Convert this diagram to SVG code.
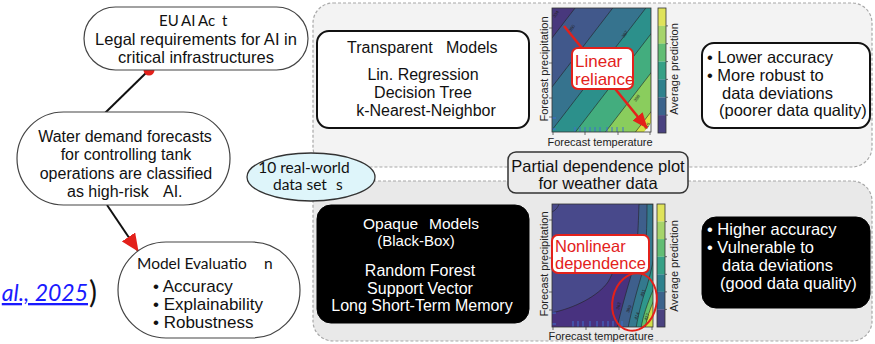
<svg xmlns="http://www.w3.org/2000/svg" width="875" height="344" viewBox="0 0 875 344">
  <style>
    .sans { font-family: "Liberation Sans", Arial, sans-serif; fill: #111; }
    .hum { font-family: Lato, "Open Sans", sans-serif; fill: #111; }
    .pill { fill: #fff; stroke: #444; stroke-width: 1.2; }
    .panel { stroke: #a8a8a8; stroke-width: 1.2; stroke-dasharray: 3 2; }
    .wbox { fill: #fff; stroke: #111; stroke-width: 2; }
    .bbox { fill: #000; stroke: #000; stroke-width: 1; }
    .wt { fill: #fff; }
    .ax { font-family: "Liberation Sans", Arial, sans-serif; font-size: 11px; fill: #222; }
    .clab { font-family: "Liberation Sans", Arial, sans-serif; font-size: 4.5px; fill: #222; }
    .cline { fill: none; stroke: #222; stroke-width: 0.6; }
    .frame { fill: none; stroke: #333; stroke-width: 0.8; }
    .tick { stroke: #333; stroke-width: 0.7; }
    .rug { stroke: #3f6fd0; stroke-width: 1; }
    .callout { fill: #fff; stroke: #e3211b; stroke-width: 2; }
    .red { fill: #e3211b; font-family: "Liberation Sans", Arial, sans-serif; }
    .link { stroke: #111; stroke-width: 2; fill: none; }
  </style>
  <defs>
    <marker id="evalHead" markerUnits="userSpaceOnUse" viewBox="0 0 18 16" markerWidth="18" markerHeight="16" refX="17" refY="8" orient="auto">
      <path d="M0,0 L18,8 L0,16 z" fill="#e3211b"/>
    </marker>
    <marker id="redHead" markerUnits="userSpaceOnUse" viewBox="0 0 16 13" markerWidth="16" markerHeight="13" refX="15" refY="6.5" orient="auto">
      <path d="M0,0 L16,6.5 L0,13 z" fill="#e3211b"/>
    </marker>
    <clipPath id="clipTop"><rect x="552" y="8" width="99" height="124"/></clipPath>
    <clipPath id="clipBot"><rect x="552" y="204" width="101" height="123"/></clipPath>
  </defs>

  <!-- background panels -->
  <g id="panels">
    <rect class="panel" x="313" y="3" width="559" height="164" rx="20" fill="#f3f3f3"/>
    <rect class="panel" x="313" y="181" width="559" height="160" rx="20" fill="#e9e9e9"/>
  </g>

  <!-- connectors of the left chain -->
  <g id="connectors">
    <line class="link" x1="149" y1="70" x2="105" y2="113"/>
    <circle cx="149" cy="70" r="5.5" fill="#e3211b"/>
    <line class="link" x1="107" y1="205" x2="138" y2="251" marker-end="url(#evalHead)"/>
  </g>

  <g id="n-euact">
    <rect class="pill" x="84" y="7" width="224" height="63" rx="31.5"/>
    <text class="hum" font-size="15" y="26"><tspan x="159">EU</tspan><tspan x="181">AI</tspan><tspan x="198">Ac</tspan><tspan x="222">t</tspan></text>
    <text class="sans" font-size="16.5" text-anchor="middle" x="196" y="45">Legal requirements for AI in</text>
    <text class="sans" font-size="16.5" text-anchor="middle" x="196" y="63">critical infrastructures</text>
  </g>

  <g id="n-water">
    <rect class="pill" x="17" y="112" width="213" height="93" rx="46.5"/>
    <g class="sans" font-size="16" text-anchor="middle">
      <text x="125" y="142">Water demand forecasts</text>
      <text x="126" y="160">for controlling tank</text>
      <text x="126" y="179">operations are classified</text>
    </g>
    <text class="sans" font-size="16" y="197"><tspan x="67">as high-risk</tspan><tspan x="163">AI.</tspan></text>
  </g>

  <g id="n-eval">
    <rect class="pill" x="118" y="242" width="182" height="96" rx="48"/>
    <text class="hum" font-size="15.5" y="269"><tspan x="137">Model Evaluatio</tspan><tspan x="264">n</tspan></text>
    <g class="sans" font-size="17">
      <text x="153" y="291.5">• Accuracy</text>
      <text x="153" y="309.5">• Explainability</text>
      <text x="153" y="327.5">• Robustness</text>
    </g>
  </g>

  <g id="citation">
    <text class="hum" font-size="23" font-style="italic" text-anchor="end" x="88" y="301" style="fill:#1a1aff" text-decoration="underline">al., 2025</text>
    <text class="hum" font-size="30" x="89" y="303">)</text>
  </g>

  <g id="n-datasets">
    <ellipse cx="311" cy="177" rx="64" ry="24" fill="#def5fa" stroke="#333" stroke-width="1.3"/>
    <text class="hum" font-size="15.5" text-anchor="middle" x="304" y="173">10 real-world</text>
    <text class="hum" font-size="15.5" y="190"><tspan x="273">data set</tspan><tspan x="336">s</tspan></text>
  </g>

  <g id="n-transparent">
    <rect class="wbox" x="317" y="31" width="212" height="97" rx="12"/>
    <text class="sans" font-size="16" y="53"><tspan x="347">Transparent</tspan><tspan x="446">Models</tspan></text>
    <g class="sans" font-size="16" text-anchor="middle">
      <text x="423" y="80">Lin. Regression</text>
      <text x="423" y="98">Decision Tree</text>
      <text x="426" y="116">k-Nearest-Neighbor</text>
    </g>
  </g>

  <g id="n-transparent-props">
    <rect class="wbox" x="702" y="43" width="168" height="85" rx="12"/>
    <g class="sans" font-size="16.5">
      <text x="707" y="63">• Lower accuracy</text>
      <text x="707" y="81">• More robust to</text>
      <text x="722" y="99">data deviations</text>
      <text x="719" y="116">(poorer data quality)</text>
    </g>
  </g>

  <g id="n-pdp">
    <rect x="508" y="152" width="180" height="41" rx="8" fill="#ececec" stroke="#333" stroke-width="1.5"/>
    <text class="sans" font-size="16.5" text-anchor="middle" x="598" y="172">Partial dependence plot</text>
    <text class="sans" font-size="16.5" text-anchor="middle" x="598" y="189">for weather data</text>
  </g>

  <g id="n-opaque">
    <rect class="bbox" x="317" y="205" width="212" height="118" rx="14"/>
    <text class="sans wt" font-size="15.5" y="229"><tspan x="363">Opaque</tspan><tspan x="429">Models</tspan></text>
    <g class="sans" font-size="15" text-anchor="middle" style="fill:#fff">
      <text x="416" y="246">(Black-Box)</text>
    </g>
    <g class="sans" font-size="16" text-anchor="middle" style="fill:#fff">
      <text x="420" y="276">Random Forest</text>
      <text x="420" y="294">Support Vector</text>
      <text x="422" y="311">Long Short-Term Memory</text>
    </g>
  </g>

  <g id="n-opaque-props">
    <rect class="bbox" x="702" y="217" width="168" height="91" rx="14"/>
    <g class="sans" font-size="16.5" style="fill:#fff">
      <text x="707" y="235">• Higher accuracy</text>
      <text x="707" y="253">• Vulnerable to</text>
      <text x="722" y="271">data deviations</text>
      <text x="720" y="289">(good data quality)</text>
    </g>
  </g>

  <!-- partial dependence: linear model -->
  <g id="plot-linear">
    <g clip-path="url(#clipTop)">
      <rect x="552" y="8" width="99" height="124" fill="#48387d"/>
      <polygon points="500,105.6 700,-154.4 700,400 500,400" fill="#41588b"/>
      <polygon points="500,154.6 700,-105.4 700,400 500,400" fill="#36738e"/>
      <polygon points="500,197.6 700,-62.4 700,400 500,400" fill="#2c908b"/>
      <polygon points="500,230.1 700,-29.9 700,400 500,400" fill="#43ad7e"/>
      <polygon points="500,269.1 700,9.1 700,400 500,400" fill="#8acd5d"/>
      <polygon points="500,308.1 700,48.1 700,400 500,400" fill="#d4e146"/>
      <polygon points="644,132 651,132 651,123" fill="#f4f4f0"/>
      <g class="cline">
        <line x1="500" y1="105.6" x2="700" y2="-154.4"/>
        <line x1="500" y1="154.6" x2="700" y2="-105.4"/>
        <line x1="500" y1="197.6" x2="700" y2="-62.4"/>
        <line x1="500" y1="230.1" x2="700" y2="-29.9"/>
        <line x1="500" y1="269.1" x2="700" y2="9.1"/>
        <line x1="500" y1="308.1" x2="700" y2="48.1"/>
      </g>
      <g class="rug">
        <line x1="575" y1="127" x2="575" y2="132"/>
        <line x1="580" y1="127" x2="580" y2="132"/>
        <line x1="585" y1="127" x2="585" y2="132"/>
        <line x1="590" y1="127" x2="590" y2="132"/>
        <line x1="595" y1="127" x2="595" y2="132"/>
        <line x1="600" y1="127" x2="600" y2="132"/>
        <line x1="607" y1="127" x2="607" y2="132"/>
        <line x1="612" y1="127" x2="612" y2="132"/>
        <line x1="617" y1="127" x2="617" y2="132"/>
        <line x1="623" y1="127" x2="623" y2="132"/>
        <line x1="552" y1="118" x2="556" y2="118"/>
        <line x1="552" y1="129" x2="556" y2="129"/>
      </g>
      <g class="clab">
        <text transform="translate(555 18) rotate(-55)">334</text>
        <text transform="translate(571 32) rotate(-55)">350</text>
        <text transform="translate(624 38) rotate(-55)">367</text>
        <text transform="translate(627 55) rotate(-55)">381</text>
        <text transform="translate(636 102) rotate(-55)">398</text>
        <text transform="translate(646 130) rotate(-55)">415</text>
      </g>
    </g>
    <rect class="frame" x="552" y="8" width="99" height="124"/>
    <g class="tick">
      <line x1="549" y1="28" x2="552" y2="28"/>
      <line x1="549" y1="63" x2="552" y2="63"/>
      <line x1="549" y1="98" x2="552" y2="98"/>
      <line x1="549" y1="117" x2="552" y2="117"/>
      <line x1="553" y1="132" x2="553" y2="135"/>
      <line x1="585" y1="132" x2="585" y2="135"/>
      <line x1="618" y1="132" x2="618" y2="135"/>
      <line x1="650" y1="132" x2="650" y2="135"/>
    </g>
    <!-- colour scale -->
    <rect x="658" y="8" width="8" height="17.9" fill="#dfe35a"/>
    <rect x="658" y="25.9" width="8" height="17.9" fill="#a6d46a"/>
    <rect x="658" y="43.7" width="8" height="17.9" fill="#62bd74"/>
    <rect x="658" y="61.6" width="8" height="17.9" fill="#36a086"/>
    <rect x="658" y="79.4" width="8" height="17.9" fill="#2e818d"/>
    <rect x="658" y="97.3" width="8" height="17.9" fill="#3b638c"/>
    <rect x="658" y="115.1" width="8" height="17.9" fill="#4a4280"/>
    <rect class="frame" x="658" y="8" width="8" height="125"/>
    <g class="tick">
      <line x1="666" y1="25.9" x2="668" y2="25.9"/>
      <line x1="666" y1="43.7" x2="668" y2="43.7"/>
      <line x1="666" y1="61.6" x2="668" y2="61.6"/>
      <line x1="666" y1="79.4" x2="668" y2="79.4"/>
      <line x1="666" y1="97.3" x2="668" y2="97.3"/>
      <line x1="666" y1="115.1" x2="668" y2="115.1"/>
    </g>
    <text class="ax" text-anchor="middle" transform="translate(547.5 69) rotate(-90)">Forecast precipitation</text>
    <text class="ax" text-anchor="middle" transform="translate(678 69) rotate(-90)">Average prediction</text>
    <text class="ax" text-anchor="middle" x="600" y="146">Forecast temperature</text>
    <!-- annotation -->
    <line x1="564" y1="26" x2="647" y2="128" stroke="#e3211b" stroke-width="2.5" marker-end="url(#redHead)"/>
    <rect class="callout" x="572" y="48" width="61" height="41" rx="6"/>
    <text class="red" font-size="17" x="575" y="67">Linear</text>
    <text class="red" font-size="17" x="575" y="85">reliance</text>
  </g>

  <!-- partial dependence: opaque model -->
  <g id="plot-nonlinear">
    <g clip-path="url(#clipBot)">
      <rect x="552" y="204" width="101" height="123" fill="#48498b"/>
      <path d="M551,313 C575,308 598,296 608,282 C614,272 616,262 617,250 L617,235 L653,235 L653,327 L551,327 Z" fill="#48327f"/>
      <path d="M617,328 C622,306 628,286 633,269 C637,255 638,235 639,204 L653,204 L653,328 Z" fill="#3e5f8c" stroke="#222" stroke-width="0.6"/>
      <path d="M628,328 C632,308 637,291 641,277 C645,263 647,240 647,204 L653,204 L653,328 Z" fill="#34798e" stroke="#222" stroke-width="0.6"/>
      <path d="M636,328 C639,311 643,297 647,286 C650,276 652,266 654,258 L654,328 Z" fill="#2e978b" stroke="#222" stroke-width="0.6"/>
      <path d="M641,328 C643,316 647,304 654,288 L654,328 Z" fill="#62c06b" stroke="#222" stroke-width="0.6"/>
      <path d="M645,328 C647,318 650,309 654,300 L654,328 Z" fill="#d2e048" stroke="#222" stroke-width="0.6"/>
      <path class="cline" d="M551,313 C575,308 598,296 608,282 C614,272 616,262 617,250"/>
      <path class="cline" d="M552,212 C556,210 558,207 559,204"/>
      <g class="rug">
        <line x1="573" y1="321" x2="573" y2="327"/>
        <line x1="578" y1="321" x2="578" y2="327"/>
        <line x1="583" y1="321" x2="583" y2="327"/>
        <line x1="590" y1="321" x2="590" y2="327"/>
        <line x1="597" y1="321" x2="597" y2="327"/>
        <line x1="603" y1="321" x2="603" y2="327"/>
        <line x1="608" y1="321" x2="608" y2="327"/>
        <line x1="613" y1="321" x2="613" y2="327"/>
        <line x1="622" y1="321" x2="622" y2="327"/>
        <line x1="552" y1="313" x2="556" y2="313"/>
        <line x1="552" y1="324" x2="556" y2="324"/>
      </g>
      <g class="clab">
        <text transform="translate(619 310) rotate(-75)">363</text>
        <text transform="translate(629 313) rotate(-70)">389</text>
        <text transform="translate(643 297) rotate(-70)">401</text>
        <text transform="translate(637 320) rotate(-70)">414</text>
        <text transform="translate(647 321) rotate(-70)">427</text>
      </g>
    </g>
    <rect class="frame" x="552" y="204" width="101" height="123"/>
    <g class="tick">
      <line x1="549" y1="220" x2="552" y2="220"/>
      <line x1="549" y1="258" x2="552" y2="258"/>
      <line x1="549" y1="292" x2="552" y2="292"/>
      <line x1="549" y1="310" x2="552" y2="310"/>
      <line x1="553" y1="327" x2="553" y2="330"/>
      <line x1="586" y1="327" x2="586" y2="330"/>
      <line x1="619" y1="327" x2="619" y2="330"/>
      <line x1="652" y1="327" x2="652" y2="330"/>
    </g>
    <rect x="657" y="204" width="8" height="17.6" fill="#dfe35a"/>
    <rect x="657" y="221.6" width="8" height="17.6" fill="#a6d46a"/>
    <rect x="657" y="239.1" width="8" height="17.6" fill="#62bd74"/>
    <rect x="657" y="256.7" width="8" height="17.6" fill="#36a086"/>
    <rect x="657" y="274.3" width="8" height="17.6" fill="#2e818d"/>
    <rect x="657" y="291.9" width="8" height="17.6" fill="#3b638c"/>
    <rect x="657" y="309.4" width="8" height="17.6" fill="#4a4280"/>
    <rect class="frame" x="657" y="204" width="8" height="123"/>
    <g class="tick">
      <line x1="665" y1="221.6" x2="667" y2="221.6"/>
      <line x1="665" y1="239.1" x2="667" y2="239.1"/>
      <line x1="665" y1="256.7" x2="667" y2="256.7"/>
      <line x1="665" y1="274.3" x2="667" y2="274.3"/>
      <line x1="665" y1="291.9" x2="667" y2="291.9"/>
      <line x1="665" y1="309.4" x2="667" y2="309.4"/>
    </g>
    <text class="ax" text-anchor="middle" transform="translate(547.5 264) rotate(-90)">Forecast precipitation</text>
    <text class="ax" text-anchor="middle" transform="translate(678 266) rotate(-90)">Average prediction</text>
    <text class="ax" text-anchor="middle" x="601" y="340">Forecast temperature</text>
    <!-- annotation -->
    <rect class="callout" x="552" y="235" width="97" height="38" rx="6"/>
    <text class="red" font-size="16.5" x="555" y="252">Nonlinear</text>
    <text class="red" font-size="16.5" x="555" y="269">dependence</text>
    <ellipse cx="634.5" cy="302" rx="22" ry="29" transform="rotate(12 634.5 302)" fill="none" stroke="#e3211b" stroke-width="2"/>
  </g>
</svg>
